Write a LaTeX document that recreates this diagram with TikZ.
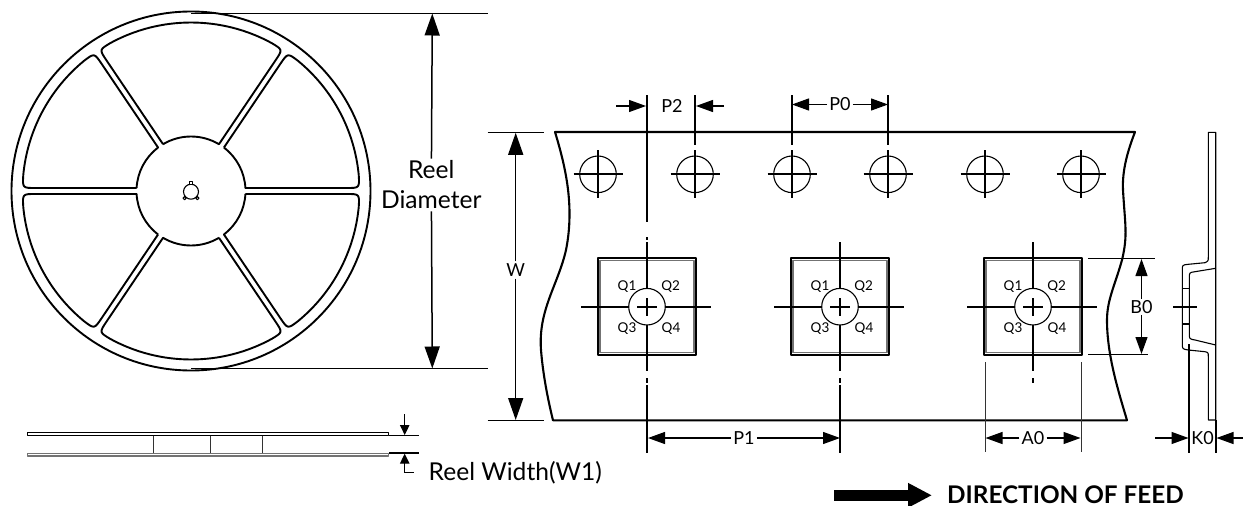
\documentclass[tikz,border=0pt]{standalone}
\usepackage{fontspec}
\setmainfont{Lato}
\usetikzlibrary{arrows.meta}

\begin{document}
\begin{tikzpicture}[x=1pt, y=1pt, yscale=-1, line join=round]
    \tikzstyle{heavyLine} = [draw=black, line width=2.1pt]
    \tikzstyle{reelLine} = [draw=black, line width=1.9pt]
    \tikzstyle{thinLine} = [draw=black, line width=1.1pt]
    \tikzstyle{hairLine} = [draw=black!80, line width=0.8pt]
    \tikzstyle{grayLine} = [draw=black!55, line width=1.3pt]
    \tikzstyle{bigLabel} = [font=\fontsize{24.6}{30}\selectfont, inner sep=2pt, align=center]
    \tikzstyle{dimLabel} = [font=\fontsize{18}{20}\selectfont, inner sep=2pt]
    \tikzstyle{quadLabel} = [font=\fontsize{13.5}{15}\selectfont, inner sep=0pt]
    \tikzstyle{bigArrow} = [draw=black, line width=1.5pt, -{Triangle[length=22pt,width=15pt]}]
    \tikzstyle{dimArrow} = [draw=black, line width=1.2pt, -{Triangle[length=17pt,width=12pt]}]
    \tikzstyle{tinyArrow} = [draw=black, line width=1.1pt, -{Triangle[length=10pt,width=9.5pt]}]
    \useasboundingbox (0,0) rectangle (1243,506);

    % reel front view
    \draw[reelLine] (191,191) circle (179.5);
    \begin{scope}[shift={(191,191)}]
        \foreach \a/\b in {0/56, 56/124, 124/180, 180/236, 236/304, 304/360}
            \draw[reelLine] (\a+3.15:54.5) -- (\a+1.1:155.5)
                .. controls (\a+1.02:168.5) .. (\a+5.44:168.5)
                arc (\a+5.44:\b-5.44:168.5)
                .. controls (\b-1.02:168.5) .. (\b-1.1:155.5)
                -- (\b-3.15:54.5) arc (\b-3.15:\a+3.15:54.5);
    \end{scope}
    \draw[thinLine] (191,191.7) circle (7.5);
    \draw[thinLine, fill=white] (189.3,181.8) rectangle (192.7,184.3);
    \draw[thinLine, fill=white] (184.6,198.2) circle (1.6);
    \draw[thinLine, fill=white] (197.4,198.2) circle (1.6);

    % reel side view
    \draw[thinLine] (27.7,432.7) rectangle (388.3,435.5);
    \draw[grayLine] (27.7,453.3) rectangle (388.3,456);
    \foreach \sx in {153.3,210,262.3}
        \draw[hairLine] (\sx,435.5) -- (\sx,453.3);

    % reel dimensions
    \draw[thinLine] (191,13.2) -- (488,13.2);
    \draw[thinLine] (191,368.7) -- (488,368.7);
    \draw[thinLine] (389,435.7) -- (419,435.7);
    \draw[thinLine] (389,453) -- (419,453);
    \node[bigLabel] (reelDiam) at (431.3,185) {Reel\\Diameter};
    \node[bigLabel, anchor=base west, inner sep=0pt] (reelWidth) at (428.5,480) {Reel Width(W1)};
    \coordinate (reelTop) at (432.3,13.5);
    \coordinate (reelBottom) at (432.3,368.5);
    \coordinate (widthStart) at (404.7,414);
    \coordinate (widthTip) at (404.7,435);
    \coordinate (lowerCorner) at (404.7,472.7);
    \coordinate (lowerEnd) at (414,472.7);
    \coordinate (lowerTip) at (404.7,453.7);
    \foreach \from/\to in {reelDiam/reelTop, reelDiam/reelBottom}
        \path (\from) edge[bigArrow] (\to);
    \foreach \from/\to in {widthStart/widthTip, lowerCorner/lowerTip}
        \path (\from) edge[tinyArrow] (\to);
    \draw[thinLine] (lowerCorner) -- (lowerEnd);

    % carrier tape outline
    \draw[heavyLine] (553,420.3) .. controls (548,400) and (543,375) .. (541,350)
        .. controls (538,310) and (558,285) .. (566,250)
        .. controls (575,205) and (565,165) .. (555,132)
        -- (1135,132)
        .. controls (1128,150) and (1122,170) .. (1123,190)
        .. controls (1125,225) and (1128,235) .. (1122,260)
        .. controls (1115,285) and (1107,300) .. (1107,320)
        .. controls (1107,355) and (1118,390) .. (1127,420.3) -- cycle;

    % sprocket holes
    \foreach \hx in {598,695,792,888,985,1081} {
        \draw[thinLine] (\hx,174.3) circle (18.3);
        \draw[heavyLine] (\hx-24.5,174.3) -- (\hx+24.5,174.3);
        \draw[heavyLine] (\hx,150) -- (\hx,198);
    }
    \foreach \hx in {695,792,888}
        \draw[heavyLine] (\hx,95) -- (\hx,145);

    % cavities
    \foreach \cx in {647,840,1033} {
        \draw[thinLine] (\cx-49,258) rectangle (\cx+49,355);
        \draw[grayLine] (\cx-47,260.3) rectangle (\cx+47,352.7);
        \draw[thinLine] (\cx,306.7) circle (18.3);
        \draw[heavyLine] (\cx-66,306.7) -- (\cx-18.3,306.7);
        \draw[heavyLine] (\cx+18.3,306.7) -- (\cx+64,306.7);
        \draw[heavyLine] (\cx-10,306.7) -- (\cx+10,306.7);
        \draw[heavyLine] (\cx,298) -- (\cx,315.5);
        \draw[heavyLine] (\cx,242) -- (\cx,288.4);
        \draw[heavyLine] (\cx,325) -- (\cx,371);
        \draw[heavyLine] (\cx,378) -- (\cx,383);
        \node[quadLabel] (q1\cx) at (\cx-20,287) {Q1};
        \node[quadLabel] (q2\cx) at (\cx+23.7,286.7) {Q2};
        \node[quadLabel] (q3\cx) at (\cx-20,329) {Q3};
        \node[quadLabel] (q4\cx) at (\cx+24,329) {Q4};
    }
    \draw[heavyLine] (647,95) -- (647,221.5);
    \draw[heavyLine] (647,237) -- (647,240);
    \foreach \cx in {647,840}
        \draw[heavyLine] (\cx,385) -- (\cx,453);
    \foreach \ax in {985,1081}
        \draw[hairLine] (\ax,362) -- (\ax,452);

    % tape dimensions
    \draw[thinLine] (487.7,132.3) -- (544,132.3);
    \draw[thinLine] (487.7,420.3) -- (544,420.3);
    \node[dimLabel] (wLabel) at (515.7,270) {W};
    \coordinate (wTop) at (515.7,132.8);
    \coordinate (wBottom) at (515.7,420);
    \foreach \from/\to in {wLabel/wTop, wLabel/wBottom}
        \path (\from) edge[bigArrow] (\to);

    \node[dimLabel] (p2Label) at (672,106) {P2};
    \coordinate (p2Left) at (616,106);
    \coordinate (p2LeftTip) at (646,106);
    \coordinate (p2Right) at (724,106);
    \coordinate (p2RightTip) at (696,106);
    \node[dimLabel] (p0Label) at (840,104.5) {P0};
    \coordinate (p0Left) at (792,104.5);
    \coordinate (p0Right) at (888,104.5);
    \node[dimLabel] (p1Label) at (744,438) {P1};
    \coordinate (p1Left) at (648,438);
    \coordinate (p1Right) at (840,438);
    \node[dimLabel] (a0Label) at (1033,438) {A0};
    \coordinate (a0Left) at (985.5,438);
    \coordinate (a0Right) at (1080.5,438);
    \node[dimLabel, fill=white, inner sep=1pt] (b0Label) at (1141.5,307) {B0};
    \coordinate (b0Top) at (1141.5,259);
    \coordinate (b0Bottom) at (1141.5,354);
    \coordinate (k0Left) at (1155,438);
    \coordinate (k0LeftTip) at (1188.5,438);
    \coordinate (k0Right) at (1243,438);
    \coordinate (k0RightTip) at (1216.5,438);
    \node[dimLabel, inner sep=0pt] (k0Label) at (1202.5,438) {K0};
    \foreach \from/\to in {p2Left/p2LeftTip, p2Right/p2RightTip, p0Label/p0Left, p0Label/p0Right,
        p1Label/p1Left, p1Label/p1Right, a0Label/a0Left, a0Label/a0Right,
        b0Label/b0Top, b0Label/b0Bottom, k0Left/k0LeftTip, k0Right/k0RightTip}
        \path (\from) edge[dimArrow] (\to);
    \draw[thinLine] (1088,258.3) -- (1155,258.3);
    \draw[thinLine] (1088,354.3) -- (1148,354.3);

    % tape side view
    \draw[thinLine] (1208.3,132.3) -- (1208.3,256.7)
        .. controls (1208.3,261) .. (1205,262.7) -- (1188.3,264.3)
        .. controls (1182.3,265) .. (1182.3,270) -- (1182.3,343.3)
        .. controls (1182.3,349) .. (1188.3,350) -- (1205,351.7)
        .. controls (1208.3,352.5) .. (1208.3,356.7) -- (1208.3,420)
        -- (1215.7,420) -- (1215.7,132.3) -- cycle;
    \draw[thinLine] (1215.7,268.3) -- (1195,271.7)
        .. controls (1189.3,272.5) .. (1189.3,278.3) -- (1189.3,333.3)
        .. controls (1189.3,339) .. (1195,340) -- (1215.7,345);
    \foreach \ky in {288.3,324}
        \draw[thinLine] (1182.3,\ky) -- (1189.3,\ky);
    \draw[heavyLine] (1173,307) -- (1197,307);
    \draw[heavyLine] (1189,344) -- (1189,453);
    \draw[heavyLine] (1216,420) -- (1216,453);

    % feed direction
    \node[font=\bfseries\fontsize{24.3}{26}\selectfont, inner sep=0pt, anchor=west] (feedLabel) at (947,494.5) {DIRECTION OF FEED};
    \coordinate (feedStart) at (834,495.3);
    \coordinate (feedTip) at (932,495.3);
    \draw[line width=10.5pt, -{Triangle[length=24pt,width=23pt]}] (feedStart) -- (feedTip);
\end{tikzpicture}
\end{document}
